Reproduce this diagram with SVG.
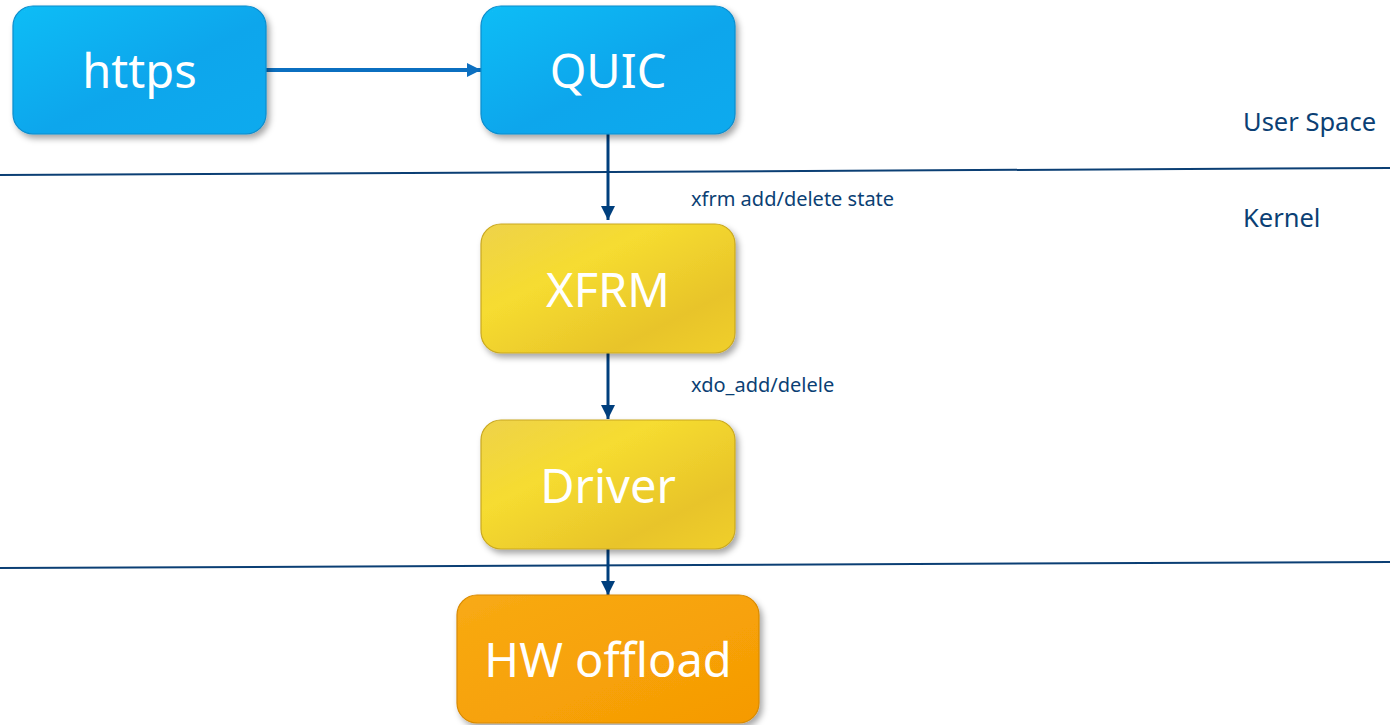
<svg xmlns="http://www.w3.org/2000/svg" width="1390" height="725" viewBox="0 0 1390 725">
<defs>
<linearGradient id="gBlue" x1="0" y1="0" x2="1" y2="1">
<stop offset="0" stop-color="#12bdf6"/><stop offset="0.55" stop-color="#07a6ec"/><stop offset="1" stop-color="#09aaee"/>
</linearGradient>
<linearGradient id="gYellow" x1="0" y1="0" x2="1" y2="1">
<stop offset="0" stop-color="#eed24a"/><stop offset="0.35" stop-color="#f6dc30"/><stop offset="0.75" stop-color="#e8c42a"/><stop offset="1" stop-color="#f0cf2c"/>
</linearGradient>
<linearGradient id="gOrange" x1="0" y1="0" x2="1" y2="1">
<stop offset="0" stop-color="#f8aa14"/><stop offset="0.6" stop-color="#f7a107"/><stop offset="1" stop-color="#f59a04"/>
</linearGradient>
<filter id="sh" x="-10%" y="-10%" width="125%" height="130%">
<feDropShadow dx="3" dy="4" stdDeviation="3" flood-color="#000" flood-opacity="0.35"/>
</filter>
<marker id="arrDark" viewBox="0 0 10 10" refX="10" refY="5" markerWidth="15" markerHeight="14" orient="auto" markerUnits="userSpaceOnUse">
<path d="M0,0 L10,5 L0,10 z" fill="#003f7d"/>
</marker>
<marker id="arrBlue" viewBox="0 0 10 10" refX="10" refY="5" markerWidth="14" markerHeight="14" orient="auto" markerUnits="userSpaceOnUse">
<path d="M0,0 L10,5 L0,10 z" fill="#0b6fc0"/>
</marker>
<style>
.lbl{font-family:"Noto Sans","Open Sans",sans-serif;fill:#ffffff;font-size:47px;text-anchor:middle;dominant-baseline:central}
.small{font-family:"Noto Sans","Open Sans",sans-serif;fill:#0b3f74;font-size:20px}
.side{font-family:"Noto Sans","Open Sans",sans-serif;fill:#0b3f74;font-size:25.5px}
.blue{fill:url(#gBlue);stroke:#0a8ccc;stroke-width:1.2}
.yellow{fill:url(#gYellow);stroke:#c9a820;stroke-width:1.2}
.orange{fill:url(#gOrange);stroke:#d88a06;stroke-width:1.2}
.sep{stroke:#0b3f74;stroke-width:2;fill:none}
.cd{stroke:#003f7d;stroke-width:3;fill:none}
.cb{stroke:#0b6fc0;stroke-width:4;fill:none}
</style>
</defs>
<rect width="1390" height="725" fill="#ffffff"/>
<g id="separators">
<line class="sep" x1="0" y1="175" x2="1390" y2="168"/>
<line class="sep" x1="0" y1="568" x2="1390" y2="562"/>
</g>
<g id="connectors">
<line class="cb" x1="266" y1="70" x2="481" y2="70" marker-end="url(#arrBlue)"/>
<line class="cd" x1="608" y1="134" x2="608" y2="220" marker-end="url(#arrDark)"/>
<line class="cd" x1="608" y1="353" x2="608" y2="419" marker-end="url(#arrDark)"/>
<line class="cd" x1="608" y1="549" x2="608" y2="595" marker-end="url(#arrDark)"/>
<text class="small" x="691" y="206">xfrm add/delete state</text>
<text class="small" x="691" y="392">xdo_add/delele</text>
</g>
<g id="node-https">
<rect class="blue" x="13" y="6" width="253" height="128" rx="20" filter="url(#sh)"/>
<text class="lbl" x="139.5" y="70">https</text>
</g>
<g id="node-quic">
<rect class="blue" x="481" y="6" width="254" height="128" rx="20" filter="url(#sh)"/>
<text class="lbl" x="608" y="70">QUIC</text>
</g>
<g id="node-xfrm">
<rect class="yellow" x="481" y="224" width="254" height="129" rx="20" filter="url(#sh)"/>
<text class="lbl" x="608" y="289">XFRM</text>
</g>
<g id="node-driver">
<rect class="yellow" x="481" y="420" width="254" height="129" rx="20" filter="url(#sh)"/>
<text class="lbl" x="608" y="485">Driver</text>
</g>
<g id="node-hw">
<rect class="orange" x="457" y="595" width="302" height="128" rx="20" filter="url(#sh)"/>
<text class="lbl" x="608" y="659">HW offload</text>
</g>
<g id="zones">
<text class="side" x="1243" y="131">User Space</text>
<text class="side" x="1243" y="227">Kernel</text>
</g>
</svg>
